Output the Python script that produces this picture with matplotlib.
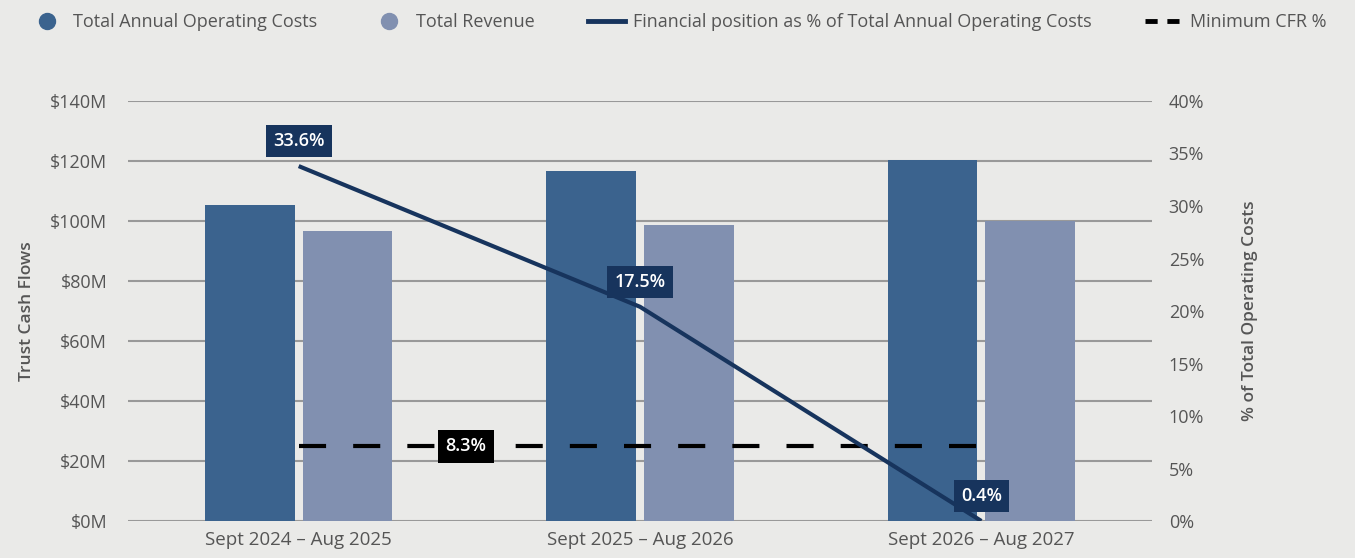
import matplotlib.pyplot as plt
from matplotlib.lines import Line2D

# data
periods = ['Sept 2024 – Aug 2025', 'Sept 2025 – Aug 2026', 'Sept 2026 – Aug 2027']
operating_costs = [105.3, 116.7, 120.3]   # $M
revenue = [96.7, 98.7, 100.0]             # $M
fin_position = [33.8, 20.4, 0.0]          # % as drawn on the right axis
fin_labels = ['33.6%', '17.5%', '0.4%']
min_cfr = 7.1                             # % as drawn
min_cfr_label = '8.3%'

bg = '#eaeae8'
dark_bar = '#3b638e'
light_bar = '#8190b0'
navy = '#17345d'
text_col = '#555555'

plt.rcParams['font.family'] = ['Open Sans', 'DejaVu Sans']

fig = plt.figure(figsize=(13.55, 5.58), dpi=100, facecolor=bg)
ax = fig.add_axes([0.0945, 0.0663, 0.7557, 0.7527])
ax.set_facecolor(bg)
ax2 = ax.twinx()

x = list(range(len(periods)))
w = 0.263
off = 0.143
ax.bar([i - off for i in x], operating_costs, width=w, color=dark_bar, zorder=2)
ax.bar([i + off for i in x], revenue, width=w, color=light_bar, zorder=2)

ax.set_xlim(-0.5, 2.5)
ax.set_ylim(0, 140)
ax.set_yticks(range(0, 141, 20))
ax.set_yticklabels([f'${v}M' for v in range(0, 141, 20)])
ax.grid(axis='y', color='#999999', linewidth=1.5, zorder=0)
ax.set_axisbelow(True)
for s in ax.spines.values():
    s.set_visible(False)
for s in ax2.spines.values():
    s.set_visible(False)
ax.tick_params(axis='y', length=0, pad=15, labelsize=13, labelcolor=text_col)
ax.tick_params(axis='x', length=0, pad=7, labelsize=13.5, labelcolor=text_col)
ax.set_xticks(x)
ax.set_xticklabels(periods)
ax.set_ylabel('Trust Cash Flows', fontsize=12.5, fontweight='semibold', color=text_col, labelpad=11)

ax2.set_ylim(0, 40)
ax2.set_yticks(range(0, 41, 5))
ax2.set_yticklabels([f'{v}%' for v in range(0, 41, 5)])
ax2.tick_params(axis='y', length=0, pad=12, labelsize=13, labelcolor=text_col)
ax2.set_ylabel('% of Total Operating Costs', fontsize=12.5, fontweight='semibold', color=text_col, labelpad=27)

# dashed minimum CFR line
ax2.plot([x[0], x[-1]], [min_cfr, min_cfr], color='black', linewidth=3,
         dashes=(6.5, 6.5), zorder=3)
ax2.text(0.49, min_cfr, min_cfr_label, ha='center', va='center', fontsize=13,
         fontweight='semibold', color='white', zorder=5,
         bbox=dict(boxstyle='square,pad=0.4', facecolor='black', edgecolor='none'))

# financial position line
ax2.plot(x, fin_position, color=navy, linewidth=3, zorder=4, solid_capstyle='butt')
for xi, yi, lab in zip(x, fin_position, fin_labels):
    ax2.annotate(lab, (xi, yi), xytext=(0, 18), textcoords='offset points',
                 ha='center', va='center', fontsize=13, fontweight='semibold', color='white',
                 zorder=5,
                 bbox=dict(boxstyle='square,pad=0.4', facecolor=navy, edgecolor='none'))

handles = [
    Line2D([], [], marker='o', linestyle='none', markersize=11.5, color=dark_bar),
    Line2D([], [], marker='o', linestyle='none', markersize=11.5, color=light_bar),
    Line2D([], [], color=navy, linewidth=3.5),
    Line2D([], [], color='black', linewidth=3.5, dashes=(2.5, 2)),
]
labels = ['Total Annual Operating Costs', 'Total Revenue',
          'Financial position as % of Total Annual Operating Costs', 'Minimum CFR %']
leg = fig.legend(handles, labels, loc='upper center', bbox_to_anchor=(0.5, 1.006), ncol=4,
                 frameon=False, fontsize=13, labelcolor=text_col, handlelength=2.0,
                 handletextpad=0.45, columnspacing=3.0)

fig.savefig('out.png', dpi=100, facecolor=bg)
